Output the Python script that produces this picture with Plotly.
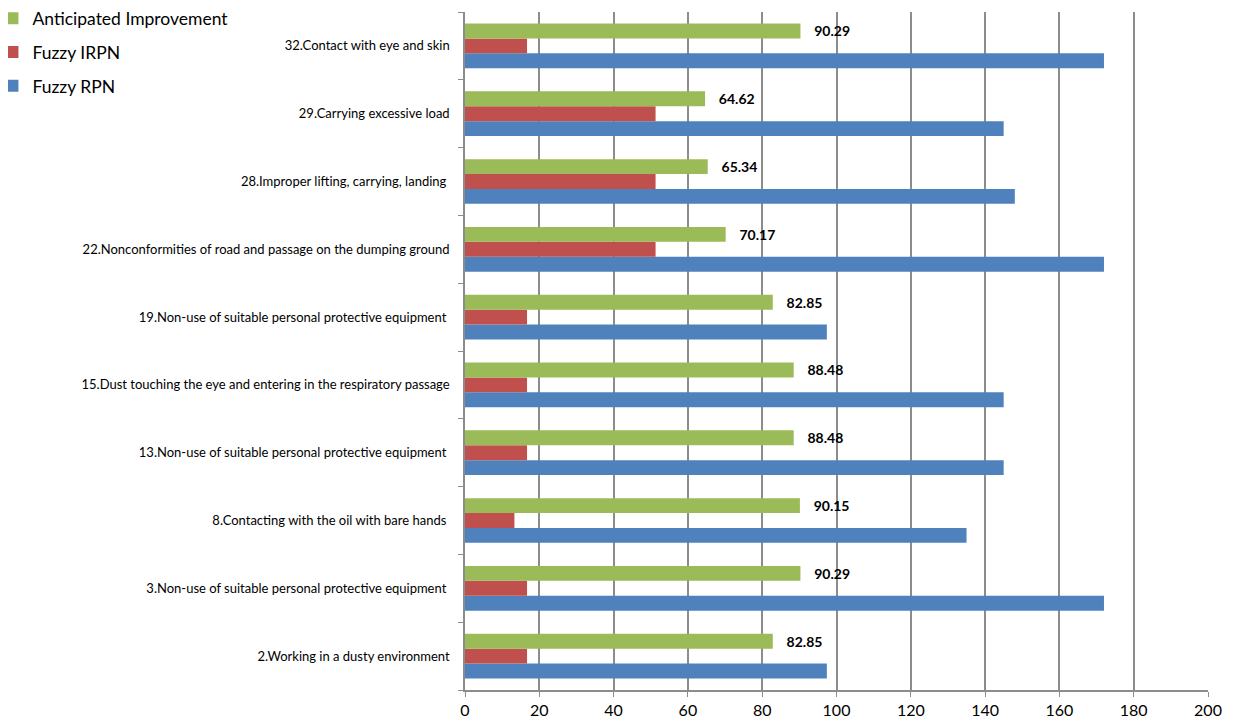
import plotly.graph_objects as go

categories = [
    "2.Working in a dusty environment",
    "3.Non-use of suitable personal protective equipment ",
    "8.Contacting with the oil with bare hands ",
    "13.Non-use of suitable personal protective equipment ",
    "15.Dust touching the eye and entering in the respiratory passage",
    "19.Non-use of suitable personal protective equipment ",
    "22.Nonconformities of road and passage on the dumping ground",
    "28.Improper lifting, carrying, landing ",
    "29.Carrying excessive load",
    "32.Contact with eye and skin",
]
fuzzy_rpn = [97.4, 172, 135, 145, 145, 97.4, 172, 148, 145, 172]
fuzzy_irpn = [16.7, 16.7, 13.3, 16.7, 16.7, 16.7, 51.3, 51.3, 51.3, 16.7]
improvement = [82.85, 90.29, 90.15, 88.48, 88.48, 82.85, 70.17, 65.34, 64.62, 90.29]

FONT = "Lato"

fig = go.Figure()
fig.add_trace(go.Bar(y=categories, x=fuzzy_rpn, orientation="h", name="Fuzzy RPN",
                     legendgroup="c", legendrank=3,
                     marker=dict(color="#4F81BD", line=dict(width=0))))
fig.add_trace(go.Bar(y=categories, x=fuzzy_irpn, orientation="h", name="Fuzzy IRPN",
                     legendgroup="b", legendrank=2,
                     marker=dict(color="#C0504D", line=dict(width=0))))
fig.add_trace(go.Bar(y=categories, x=improvement, orientation="h", name="Anticipated Improvement",
                     legendgroup="a", legendrank=1,
                     marker=dict(color="#9BBB59", line=dict(width=0)),
                     texttemplate="   <b>%{x:.2f}</b>", textposition="outside",
                     constraintext="none",
                     textfont=dict(family=FONT, size=14, color="black"), cliponaxis=False))

fig.update_layout(
    width=1237, height=726,
    barmode="group", bargap=0.34, bargroupgap=0,
    plot_bgcolor="white", paper_bgcolor="white",
    margin=dict(l=457, r=37, t=4, b=44, autoexpand=False),
    font=dict(family=FONT, size=13, color="black"),
    legend=dict(traceorder="grouped", xref="paper", yref="paper",
                x=-0.636, y=1.017, xanchor="left", yanchor="top",
                font=dict(family=FONT, size=17.5), bgcolor="rgba(0,0,0,0)",
                itemwidth=30, tracegroupgap=8),
    xaxis=dict(range=[0, 200], dtick=20, showgrid=True, gridcolor="#8C8C8C", gridwidth=1.5,
               showline=True, linecolor="#8C8C8C", linewidth=1.5, ticks="outside",
               tickcolor="#8C8C8C", ticklen=5, zeroline=False,
               tickfont=dict(family=FONT, size=16)),
    yaxis=dict(showline=True, linecolor="#8C8C8C", linewidth=1.5, ticks="outside",
               tickson="boundaries", tickcolor="#8C8C8C", ticklen=5, showgrid=False,
               ticklabelstandoff=11, tickfont=dict(family=FONT, size=13)),
)

fig.write_html("out.html")
